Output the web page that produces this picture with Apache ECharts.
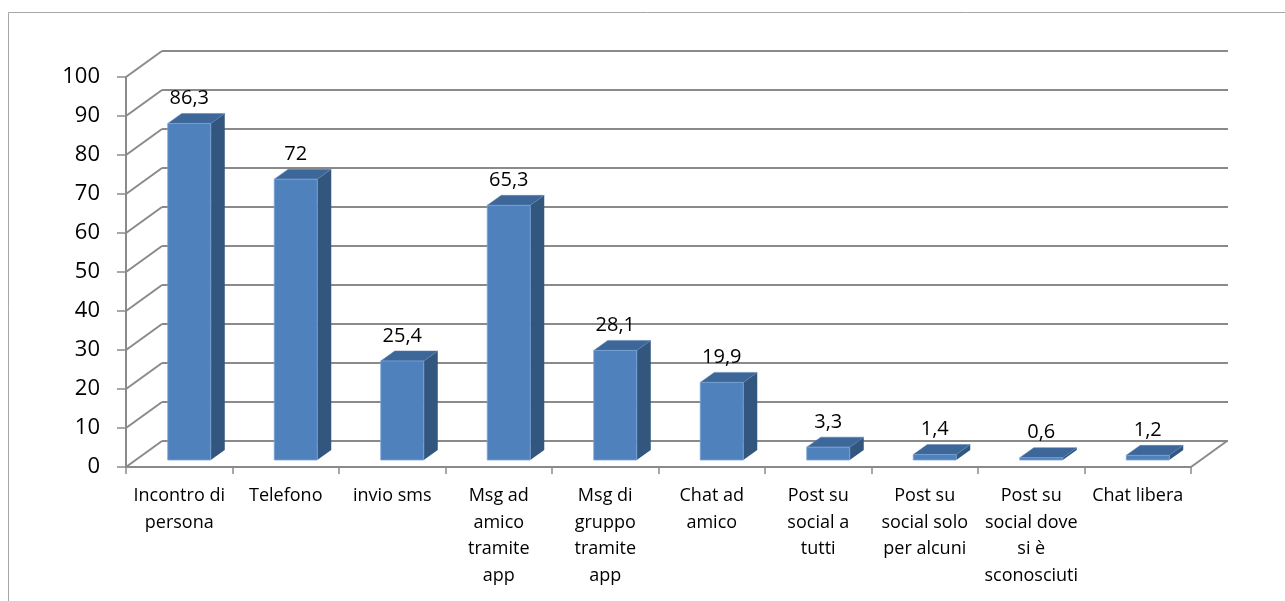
<!DOCTYPE html>
<html>
<head>
<meta charset="utf-8">
<script src="https://cdn.jsdelivr.net/npm/echarts@6/dist/echarts.min.js"></script>
<style>
html,body{margin:0;padding:0;background:#fff;}
#chart{width:1285px;height:601px;}
</style>
</head>
<body>
<div id="chart"></div>
<script>
// Data
const categories = [
  'Incontro di\npersona',
  'Telefono',
  'invio sms',
  'Msg ad\namico\ntramite\napp',
  'Msg di\ngruppo\ntramite\napp',
  'Chat ad\namico',
  'Post su\nsocial a\ntutti',
  'Post su\nsocial solo\nper alcuni',
  'Post su\nsocial dove\nsi è\nsconosciuti',
  'Chat libera'
];
const values = [86.3, 72, 25.4, 65.3, 28.1, 19.9, 3.3, 1.4, 0.6, 1.2];
const yTicks = [0, 10, 20, 30, 40, 50, 60, 70, 80, 90, 100];

const FONT = '"Open Sans", "Noto Sans", sans-serif';
const GRID_COLOR = '#8a8a8a';
// 3D geometry (pixels)
const WALL_DX = 36, WALL_DY = -26;
const BAR_OFF_DX = 10, BAR_OFF_DY = -7;
const BAR_DX = 14, BAR_DY = -10;
const BAR_FRAC = 0.404;

function fmt(v) { return String(v).replace('.', ','); }

const chart = echarts.init(document.getElementById('chart'), null, {renderer: 'canvas'});

const option = {
  animation: false,
  backgroundColor: '#fff',
  grid: {left: 126, right: 94, top: 77, bottom: 134},
  graphic: [{
    type: 'rect',
    shape: {x: 8.5, y: 12.5, width: 1400, height: 700},
    style: {fill: 'none', stroke: '#a6a6a6', lineWidth: 1},
    silent: true, z: 0
  }],
  xAxis: {
    type: 'category',
    data: categories,
    boundaryGap: true,
    axisLine: {show: true, lineStyle: {color: GRID_COLOR, width: 2}},
    axisTick: {show: true, interval: 0, length: 7, lineStyle: {color: GRID_COLOR, width: 1.5}},
    axisLabel: {interval: 0, margin: 16, fontFamily: FONT, fontSize: 18, lineHeight: 26.5, color: '#000'},
    splitLine: {show: false}
  },
  yAxis: {
    type: 'value',
    min: 0, max: 100, interval: 10,
    axisLine: {show: true, lineStyle: {color: GRID_COLOR, width: 2}},
    axisTick: {show: true, length: 9, lineStyle: {color: GRID_COLOR, width: 1.5}},
    axisLabel: {margin: 26, fontFamily: FONT, fontSize: 22, color: '#000'},
    splitLine: {show: false}
  },
  series: [
    {
      type: 'custom',
      z: 1,
      silent: true,
      clip: false,
      data: yTicks.map(v => [0, v]),
      encode: {x: 0, y: 1},
      renderItem: function (params, api) {
        const cs = params.coordSys;
        const v = api.value(1);
        const y = api.coord([0, v])[1];
        const x0 = cs.x;
        const x1 = cs.x + cs.width;
        const children = [
          {type: 'line', shape: {x1: x0, y1: y, x2: x0 + WALL_DX, y2: y + WALL_DY},
           style: {stroke: GRID_COLOR, lineWidth: 2}},
          {type: 'line', shape: {x1: x0 + WALL_DX, y1: y + WALL_DY, x2: x1 + WALL_DX + 1, y2: y + WALL_DY},
           style: {stroke: GRID_COLOR, lineWidth: 2}}
        ];
        if (v === 0) {
          children.push({type: 'line', shape: {x1: x1, y1: y, x2: x1 + WALL_DX, y2: y + WALL_DY},
            style: {stroke: GRID_COLOR, lineWidth: 2}});
        }
        return {type: 'group', children: children};
      }
    },
    {
      type: 'custom',
      z: 3,
      clip: false,
      data: values.map((v, i) => [i, v]),
      encode: {x: 0, y: 1},
      renderItem: function (params, api) {
        const i = api.value(0);
        const v = api.value(1);
        const base = api.coord([i, 0]);
        const top = api.coord([i, v]);
        const bw = api.size([1, 0])[0];
        const w = bw * BAR_FRAC;
        const cx = base[0] + BAR_OFF_DX;
        const fx1 = cx - w / 2, fx2 = cx + w / 2;
        const by = base[1] + BAR_OFF_DY;
        const ty = top[1] + BAR_OFF_DY;
        return {
          type: 'group',
          children: [
            {type: 'polygon', shape: {points: [[fx2, ty], [fx2 + BAR_DX, ty + BAR_DY], [fx2 + BAR_DX, by + BAR_DY], [fx2, by]]},
             style: {fill: '#33567f'}},
            {type: 'polygon', shape: {points: [[fx1, ty], [fx2, ty], [fx2 + BAR_DX, ty + BAR_DY], [fx1 + BAR_DX, ty + BAR_DY]]},
             style: {fill: '#3d6699', stroke: '#5a82b5', lineWidth: 0.5}},
            {type: 'rect', shape: {x: fx1, y: ty, width: w, height: by - ty},
             style: {fill: '#4f81bd', stroke: '#7aa3d6', lineWidth: 0.8}},
            {type: 'text', x: cx, y: ty + BAR_DY - 15,
             style: {text: fmt(v), fontFamily: FONT, fontSize: 20, fill: '#000', align: 'center', verticalAlign: 'middle'}}
          ]
        };
      }
    }
  ]
};
chart.setOption(option);
</script>
</body>
</html>
